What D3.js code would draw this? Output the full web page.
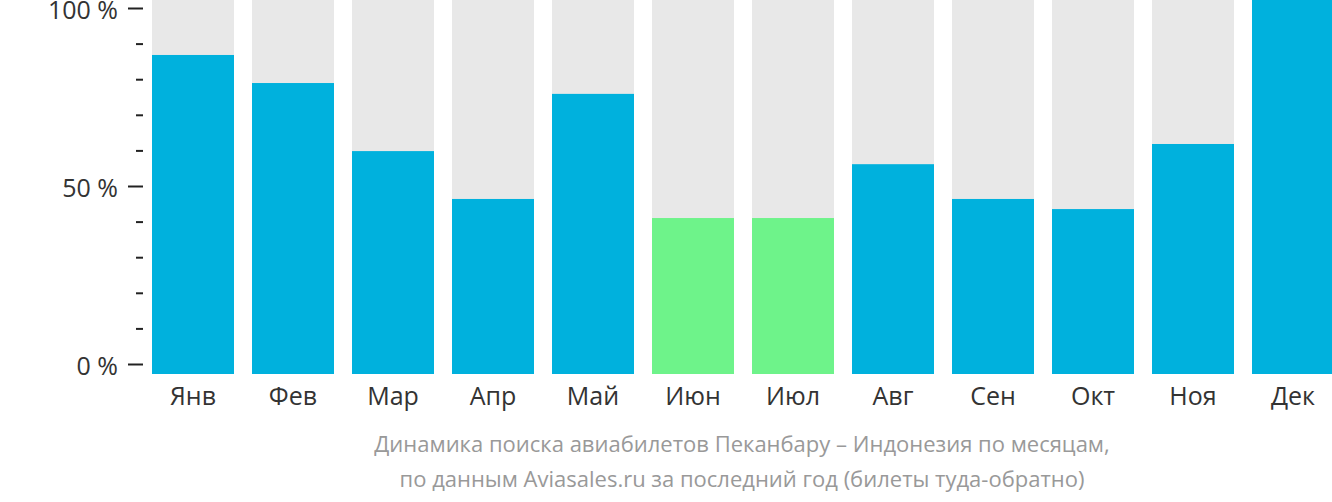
<!DOCTYPE html>
<html>
<head>
<meta charset="utf-8">
<script src="https://cdn.jsdelivr.net/npm/d3@7"></script>
<style>
html,body{margin:0;padding:0;background:#fff;}
svg{display:block;font-family:"Open Sans",sans-serif;}
</style>
</head>
<body>
<svg id="chart" width="1332" height="502"></svg>
<script>
const months = ["Янв","Фев","Мар","Апр","Май","Июн","Июл","Авг","Сен","Окт","Ноя","Дек"];
const values = [85.3,77.8,59.6,46.8,74.9,41.7,41.7,56.1,46.8,44.1,61.5,100];
const highlight = [false,false,false,false,false,true,true,false,false,false,false,false];
const yTicks = [0,50,100];
const yMinorTicks = [10,20,30,40,60,70,80,90];
const subtitle = ["Динамика поиска авиабилетов Пеканбару – Индонезия по месяцам,",
                  "по данным Aviasales.ru за последний год (билеты туда-обратно)"];

const svg = d3.select("#chart");
const x = d3.scaleBand().domain(months).range([152, 1334]).paddingInner(0.18).paddingOuter(0);
const yBar = d3.scaleLinear().domain([0,100]).range([374,0]);
const yAxis = d3.scaleLinear().domain([0,100]).range([364,8]);

const g = svg.append("g");
g.selectAll("rect.bg").data(months).join("rect")
  .attr("x", d => x(d)).attr("width", x.bandwidth())
  .attr("y", yBar(100)).attr("height", yBar(0)-yBar(100))
  .attr("fill", "#e8e8e8");
g.selectAll("rect.val").data(values).join("rect")
  .attr("x", (d,i) => x(months[i])).attr("width", x.bandwidth())
  .attr("y", d => yBar(d)).attr("height", d => yBar(0)-yBar(d))
  .attr("fill", (d,i) => highlight[i] ? "#6ef38a" : "#00b1dd");

// y axis major
const ax = svg.append("g").attr("transform","translate(143,0)")
  .call(d3.axisLeft(yAxis).tickValues(yTicks).tickSize(15).tickPadding(10).tickFormat(d => d + " %"));
ax.select(".domain").remove();
ax.selectAll("line").attr("stroke","#222").attr("stroke-width",2);
ax.selectAll("text").attr("font-size","25px").attr("fill","#333").attr("dy","0.42em")
  .attr("font-family","'Open Sans',sans-serif");
// minor
const axm = svg.append("g").attr("transform","translate(143,0)")
  .call(d3.axisLeft(yAxis).tickValues(yMinorTicks).tickSize(7).tickFormat(""));
axm.select(".domain").remove();
axm.selectAll("line").attr("stroke","#222").attr("stroke-width",2);

// x axis labels
const axx = svg.append("g").attr("transform","translate(0,374)")
  .call(d3.axisBottom(x).tickSize(0).tickPadding(0));
axx.select(".domain").remove();
axx.selectAll("text").attr("font-size","25px").attr("fill","#333")
  .attr("font-family","'Open Sans',sans-serif").attr("y",31).attr("dy",0);

svg.selectAll("text.sub").data(subtitle).join("text")
  .attr("class","sub")
  .attr("x", 742).attr("y", (d,i) => 452 + i*35)
  .attr("text-anchor","middle")
  .attr("font-size","22px").attr("fill","#999")
  .text(d => d);
</script>
</body>
</html>
